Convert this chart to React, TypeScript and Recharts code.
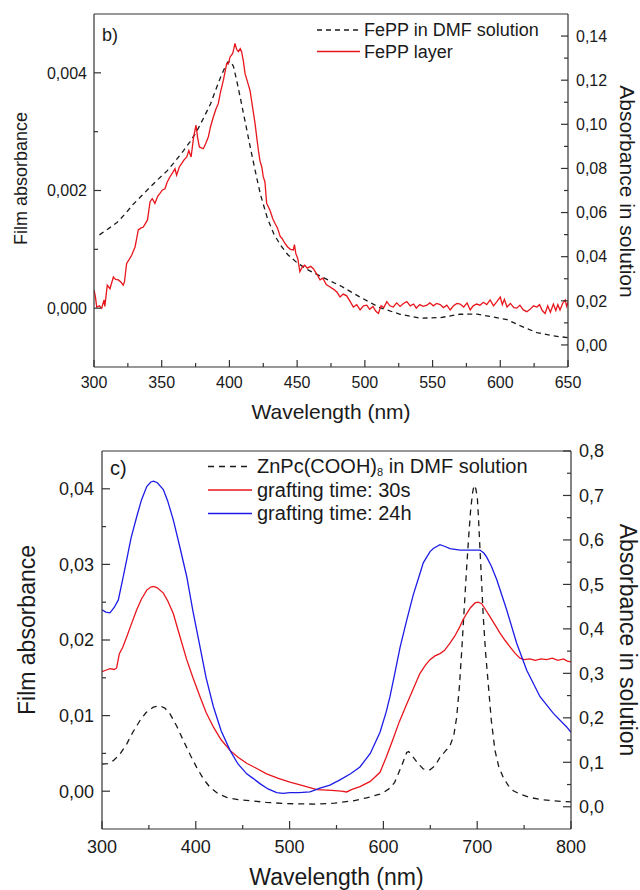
import React from 'react';
import { LineChart, Line, XAxis, YAxis, Legend, ReferenceLine } from 'recharts';

const FONT = '"Liberation Sans", Arial, Helvetica, sans-serif';
const AXIS = '#333333';
const TXT = '#1a1a1a';

// ---------- Panel b) ----------
const bXTicks = [300, 325, 350, 375, 400, 425, 450, 475, 500, 525, 550, 575, 600, 625, 650];
const bLeftTicks = [0, 0.001, 0.002, 0.003, 0.004];
const bRightTicks = [0, 0.01, 0.02, 0.03, 0.04, 0.05, 0.06, 0.07, 0.08, 0.09, 0.1, 0.11, 0.12, 0.13, 0.14];

const bNames = ['FePP in DMF solution', 'FePP layer'];
const bColors = ['#1a1a1a', '#e8161c'];
const bDashes = ['5 4', undefined];

const feppSolWl = [304, 310, 317, 323, 329, 335, 341, 347, 354, 360, 366, 371, 376, 381, 386, 390, 394, 397, 399, 401, 403, 405.5, 408, 410.5, 413, 415.5, 418, 420.5, 423, 428, 433, 438, 443, 450, 458, 467, 482, 497, 511, 526, 541, 556, 570, 583, 595, 605, 615, 627, 639, 650];
const feppSolAbs = [0.0499, 0.0524, 0.0555, 0.0594, 0.0638, 0.0675, 0.0713, 0.0749, 0.0789, 0.0833, 0.088, 0.0922, 0.097, 0.103, 0.1092, 0.1158, 0.1222, 0.1262, 0.1283, 0.1285, 0.1262, 0.1195, 0.1121, 0.1045, 0.097, 0.0893, 0.082, 0.0748, 0.068, 0.0575, 0.05, 0.045, 0.041, 0.0372, 0.034, 0.0312, 0.0268, 0.0215, 0.0169, 0.0139, 0.0121, 0.0124, 0.0139, 0.014, 0.0126, 0.0115, 0.0086, 0.0056, 0.0041, 0.0033];

const feppLayerWl = [300, 301, 302, 304, 305.7, 307.4, 308, 309.8, 311.8, 314.3, 316, 318, 320, 321.6, 322.5, 324.1, 326, 327.8, 330.3, 331.5, 332.7, 334.5, 336.4, 338, 339.5, 341.4, 343, 345, 347, 348.7, 350.5, 352.4, 354, 356, 358, 359.8, 361, 363, 364.8, 366.5, 368.5, 370, 371.7, 373.5, 375.3, 376.5, 377.8, 380.7, 382.5, 384.4, 386, 388.1, 390, 391.8, 393.5, 395.5, 396.8, 398, 399.2, 400.5, 402.4, 403.3, 404.1, 405.3, 406.6, 408, 409, 410.3, 411.5, 413.3, 415.2, 417, 418.9, 420.2, 421.4, 422.6, 423.9, 425, 426.2, 427.5, 428.8, 430, 432, 433.7, 435.5, 437.5, 439, 441, 443, 445, 447.2, 448, 449, 450.5, 452, 453.8, 455.6, 457.5, 460, 462, 464.5, 466.9, 469, 471.5, 474.3, 477, 479.5, 481.7, 484, 486.6, 489, 491.5, 494, 496.5, 499, 501.4, 503.5, 506, 508, 510, 512, 514, 516.2, 518.5, 521, 523.5, 526, 528.5, 531, 533.5, 536, 538, 540.5, 543, 545.8, 548, 550.5, 553, 555.6, 558, 560.5, 563, 565.5, 568, 570.4, 573, 575.5, 577.8, 580, 582.5, 585, 587.5, 590, 592.5, 595, 597.5, 600, 601.5, 603, 605, 607.5, 610, 612.2, 614.5, 617, 619.6, 622, 624.5, 627, 629, 631, 633.1, 635, 637, 639.2, 641, 642.5, 644.1, 646, 647.9, 649, 650];
const feppLayerAbs = [0.00031, 0.0002, 0.00002, 0.00004, 0, 0.00014, 0.00003, 0.00039, 0.00033, 0.00053, 0.00049, 0.00048, 0.00044, 0.00039, 0.00045, 0.00076, 0.00083, 0.0009, 0.00104, 0.00118, 0.00133, 0.00136, 0.00138, 0.00144, 0.0015, 0.00181, 0.00186, 0.00178, 0.0019, 0.00195, 0.00201, 0.00203, 0.00214, 0.00223, 0.0023, 0.00237, 0.00226, 0.0024, 0.00246, 0.00252, 0.00257, 0.00268, 0.00257, 0.0029, 0.00311, 0.0029, 0.00274, 0.00271, 0.0028, 0.00291, 0.00308, 0.00325, 0.00338, 0.00348, 0.00368, 0.00387, 0.00402, 0.00416, 0.00415, 0.00427, 0.00433, 0.00441, 0.0045, 0.0044, 0.00436, 0.00441, 0.00436, 0.0042, 0.00399, 0.00385, 0.0037, 0.00343, 0.00314, 0.0029, 0.00268, 0.0025, 0.0024, 0.00223, 0.00215, 0.00178, 0.00172, 0.00166, 0.00152, 0.00144, 0.00136, 0.00122, 0.00118, 0.0011, 0.00104, 0.001, 0.00099, 0.00108, 0.00093, 0.00084, 0.00062, 0.0007, 0.00073, 0.00068, 0.00071, 0.00067, 0.00058, 0.00048, 0.00051, 0.0004, 0.00036, 0.00032, 0.00027, 0.00019, 0.00024, 0.00021, 0.00012, 0.00002, 0.00006, -0.00003, 0.00004, 0.00005, -0.00002, 0.00003, -0.00005, -0.00009, 0.00004, 0.00001, 0.00011, 0.00004, 0.00002, 0.00009, 0.00003, 0.00008, 0.00011, 0.00004, 0.00007, 0, 0.00006, 0.00003, 0.00005, 0.00009, 0.00004, 0.00008, 0.00006, 0.00001, 0.00005, -0.00003, 0.00004, 0.00008, 0.00007, 0.00002, 0.00009, -0.00003, 0.00004, 0.00007, 0.00005, 0.0001, 0.00006, 0.00014, 0.00004, 0.00011, 0.00019, 0.00006, 0.00015, 0.00002, 0.00008, 0.00001, 0, 0.00005, -0.00003, -0.00006, -0.00002, 0.00004, 0.00002, 0.00006, -0.00004, -0.00009, 0.00004, -0.00007, 0.00007, -0.00004, 0.00006, -0.00003, 0.00008, 0.00014, 0.00003, 0.0001];

// ---------- Panel c) ----------
const cXTicks = [300, 350, 400, 450, 500, 550, 600, 650, 700, 750, 800];
const cLeftTicks = [0, 0.005, 0.01, 0.015, 0.02, 0.025, 0.03, 0.035, 0.04];
const cRightTicks = [0, 0.05, 0.1, 0.15, 0.2, 0.25, 0.3, 0.35, 0.4, 0.45, 0.5, 0.55, 0.6, 0.65, 0.7, 0.75, 0.8];

const cNames = ['ZnPc(COOH)8 in DMF solution', 'grafting time: 30s', 'grafting time: 24h'];
const cColors = ['#1a1a1a', '#e8161c', '#1c1ce6'];
const cDashes = ['6 5', undefined, undefined];

const znpcSolWl = [300, 306, 312, 319, 326.3, 333, 340.5, 347, 354.7, 361.8, 367, 372.5, 380, 386.7, 394, 400.9, 408, 415.2, 424, 432.9, 445, 457.8, 475, 493.4, 510, 529, 548, 567.9, 582, 596.4, 600, 607, 612, 616, 620, 624.8, 627, 631.9, 637, 642.5, 649.7, 655, 660.3, 666, 671, 675, 678.1, 681, 683.5, 686, 688.8, 691, 693, 695, 696.6, 698.5, 700.1, 701.5, 703, 704.8, 706.5, 709, 711.8, 715, 719, 723, 727.8, 733, 738.5, 746, 756.3, 768, 781.2, 790, 800];
const znpcSolAbs = [0.0962, 0.097, 0.1036, 0.118, 0.141, 0.168, 0.194, 0.212, 0.224, 0.227, 0.222, 0.209, 0.18, 0.149, 0.117, 0.0885, 0.063, 0.0435, 0.029, 0.021, 0.016, 0.0135, 0.01, 0.0074, 0.0065, 0.006, 0.008, 0.0135, 0.02, 0.0285, 0.032, 0.042, 0.055, 0.075, 0.095, 0.122, 0.124, 0.111, 0.097, 0.085, 0.083, 0.092, 0.111, 0.125, 0.137, 0.16, 0.201, 0.27, 0.351, 0.44, 0.539, 0.61, 0.667, 0.705, 0.723, 0.715, 0.697, 0.645, 0.577, 0.5, 0.426, 0.345, 0.276, 0.195, 0.126, 0.09, 0.066, 0.048, 0.036, 0.028, 0.021, 0.016, 0.0135, 0.012, 0.011];

const graft30Wl = [300, 304, 308.5, 313, 315.6, 318.5, 322, 326.3, 331, 337, 342, 347.7, 352, 355, 359, 365.4, 370, 376, 383, 390.3, 397, 404.5, 411, 418.7, 427, 436.5, 445, 454.3, 465, 475.5, 488, 500.4, 515, 529, 545, 555, 560.9, 566, 575, 586, 596.4, 603, 610.6, 617, 624.8, 632, 639, 645, 649.7, 655, 660.3, 665, 671, 676, 681.7, 685, 688.8, 693, 697.7, 701, 704.8, 709, 713.6, 719, 724.3, 730, 735, 740, 745.6, 750, 756, 762, 768, 774, 780, 786, 792, 796, 800];
const graft30Abs = [0.0158, 0.016, 0.0162, 0.0161, 0.0163, 0.0182, 0.019, 0.0204, 0.022, 0.024, 0.0254, 0.0266, 0.027, 0.0271, 0.0269, 0.0262, 0.0252, 0.0235, 0.0205, 0.0174, 0.015, 0.0125, 0.0104, 0.0085, 0.0068, 0.0054, 0.0045, 0.0037, 0.003, 0.0023, 0.0017, 0.0012, 0.0007, 0.0002, 0.0001, 0, -0.0001, 0.0002, 0.0006, 0.0013, 0.0025, 0.0045, 0.007, 0.0092, 0.0115, 0.0136, 0.0156, 0.0167, 0.0174, 0.0179, 0.0182, 0.0186, 0.0196, 0.0205, 0.0218, 0.0227, 0.0235, 0.0243, 0.0249, 0.025, 0.0248, 0.024, 0.0231, 0.022, 0.0209, 0.0199, 0.0191, 0.0183, 0.0176, 0.0174, 0.0175, 0.0173, 0.0175, 0.0174, 0.0176, 0.0173, 0.0175, 0.0172, 0.0171];

const graft24Wl = [300, 304, 308.5, 313, 317.4, 322, 326.3, 331, 337, 342, 347.7, 352, 355, 359, 365.4, 370, 376, 383, 390.3, 397, 404.5, 411, 418.7, 427, 436.5, 445, 454.3, 461, 468.4, 477, 486.2, 493, 500.4, 510, 521.7, 532.4, 543, 553.7, 565, 575, 586, 596.4, 603, 607, 612, 617.7, 624.8, 631.9, 639, 642.5, 649.7, 653.2, 660.3, 665, 671, 681.7, 689, 695.8, 703, 707, 710, 715, 720.8, 731.4, 742, 752.8, 767, 781.2, 795.4, 800];
const graft24Abs = [0.024, 0.0237, 0.0236, 0.0243, 0.0253, 0.028, 0.0306, 0.0335, 0.0363, 0.0385, 0.0403, 0.0409, 0.041, 0.0408, 0.0399, 0.0384, 0.0359, 0.0323, 0.0284, 0.0238, 0.0191, 0.015, 0.0112, 0.008, 0.0054, 0.0036, 0.0023, 0.0017, 0.001, 0.0003, -0.0002, -0.0003, -0.0002, -0.0002, -0.0001, 0.0004, 0.0008, 0.0015, 0.0023, 0.0032, 0.005, 0.0078, 0.0105, 0.0125, 0.0155, 0.019, 0.0226, 0.026, 0.0288, 0.0302, 0.0317, 0.0321, 0.0326, 0.0324, 0.0321, 0.0319, 0.0319, 0.0319, 0.0319, 0.0315, 0.031, 0.0298, 0.028, 0.024, 0.0196, 0.016, 0.0125, 0.0103, 0.0085, 0.0078];

const zip = (xs: number[], ys: number[]) => xs.map((x, i) => ({ x, y: ys[i] }));

const comma = (v: number, d: number) => v.toFixed(d).replace('.', ',');

type TickCfg = {
  side: 'left' | 'right' | 'bottom';
  step: number;
  digits: number;
  fs: number;
  major: number;
  minor: number;
  gap: number;
};

const makeTick = (c: TickCfg) => (props: any) => {
  const { x, y, payload } = props;
  const v = payload.value;
  const r = v / c.step;
  const isMajor = Math.abs(r - Math.round(r)) < 1e-6;
  const len = isMajor ? c.major : c.minor;
  const ls = { stroke: AXIS, strokeWidth: 1.2 };
  const ts = { fontSize: c.fs, fontFamily: FONT, fill: TXT };
  const lbl = comma(v, c.digits);
  if (c.side === 'bottom') {
    return (
      <g>
        <line x1={x} x2={x} y1={y} y2={y - len} {...ls} />
        {isMajor && (
          <text x={x} y={y + c.gap} textAnchor="middle" {...ts}>
            {lbl}
          </text>
        )}
      </g>
    );
  }
  if (c.side === 'left') {
    return (
      <g>
        <line x1={x} x2={x + len} y1={y} y2={y} {...ls} />
        {isMajor && (
          <text x={x - c.gap} y={y + c.fs * 0.36} textAnchor="end" {...ts}>
            {lbl}
          </text>
        )}
      </g>
    );
  }
  return (
    <g>
      <line x1={x} x2={x - len} y1={y} y2={y} {...ls} />
      {isMajor && (
        <text x={x + c.gap} y={y + c.fs * 0.36} textAnchor="start" {...ts}>
          {lbl}
        </text>
      )}
    </g>
  );
};

const yTitle = (text: string, fs: number, side: 'left' | 'right', dist: number, dy: number) => ({
  content: (p: any) => {
    const vb = p.viewBox || {};
    const cx = side === 'left' ? vb.x + vb.width - dist : vb.x + dist;
    const cy = vb.y + vb.height / 2 + dy;
    const ang = side === 'left' ? -90 : 90;
    return (
      <text
        x={cx}
        y={cy}
        transform={`rotate(${ang} ${cx} ${cy})`}
        textAnchor="middle"
        dominantBaseline="central"
        fontSize={fs}
        fontFamily={FONT}
        fill={TXT}
      >
        {text}
      </text>
    );
  },
});

const xTitle = (text: string, fs: number, baseline: number) => ({
  content: (p: any) => {
    const vb = p.viewBox || {};
    return (
      <text x={vb.x + vb.width / 2} y={vb.y + baseline} textAnchor="middle" fontSize={fs} fontFamily={FONT} fill={TXT}>
        {text}
      </text>
    );
  },
});

const renderName = (name: string) => {
  const m = name.match(/^(.*\(COOH\))8(.*)$/);
  if (!m) return name;
  return [
    <tspan key="a">{m[1]}</tspan>,
    <tspan key="b" fontSize={11} dy={3}>
      8
    </tspan>,
    <tspan key="c" dy={-3}>
      {m[2]}
    </tspan>,
  ];
};

const makeLegend = (
  panel: string,
  panelX: number,
  panelY: number,
  names: string[],
  colors: string[],
  dashes: (string | undefined)[],
  x1: number,
  x2: number,
  textX: number,
  y0: number,
  rowH: number,
  fs: number,
  w: number,
  h: number
) => () => (
  <svg width={w} height={h} style={{ position: 'absolute', left: 0, top: 0, overflow: 'visible' }}>
    <text x={panelX} y={panelY} fontSize={fs} fontFamily={FONT} fill={TXT}>
      {panel}
    </text>
    {names.map((n, i) => {
      const y = y0 + i * rowH;
      return (
        <g key={n}>
          <line x1={x1} x2={x2} y1={y} y2={y} stroke={colors[i]} strokeWidth={1.4} strokeDasharray={dashes[i]} />
          <text x={textX} y={y + fs * 0.34} fontSize={fs} fontFamily={FONT} fill={TXT}>
            {renderName(n)}
          </text>
        </g>
      );
    })}
  </svg>
);

const axisLineStyle = { stroke: AXIS, strokeWidth: 1.2 };

export default function App() {
  return (
    <div style={{ position: 'absolute', left: 0, top: 0, width: 640, height: 890, background: '#fff' }}>
      <div style={{ position: 'absolute', left: 0, top: 0 }}>
        <LineChart width={640} height={426} margin={{ top: 14, right: 0, bottom: 0, left: 0 }}>
          <XAxis
            type="number"
            dataKey="x"
            domain={[300, 650]}
            ticks={bXTicks}
            interval={0}
            allowDataOverflow
            height={59}
            tickSize={0}
            tickMargin={0}
            tickLine={false}
            axisLine={axisLineStyle}
            tick={makeTick({ side: 'bottom', step: 50, digits: 0, fs: 16, major: 7, minor: 4, gap: 21 })}
            label={xTitle('Wavelength (nm)', 21, 52)}
          />
          <YAxis
            yAxisId="L"
            orientation="left"
            type="number"
            domain={[-0.001, 0.005]}
            ticks={bLeftTicks}
            interval={0}
            allowDataOverflow
            width={94}
            tickSize={0}
            tickMargin={0}
            tickLine={false}
            axisLine={axisLineStyle}
            tick={makeTick({ side: 'left', step: 0.002, digits: 3, fs: 16, major: 7, minor: 4, gap: 7 })}
            label={yTitle('Film absorbance', 18, 'left', 73, -12)}
          />
          <YAxis
            yAxisId="R"
            orientation="right"
            type="number"
            domain={[-0.01, 0.15]}
            ticks={bRightTicks}
            interval={0}
            allowDataOverflow
            width={72}
            tickSize={0}
            tickMargin={0}
            tickLine={false}
            axisLine={axisLineStyle}
            tick={makeTick({ side: 'right', step: 0.02, digits: 2, fs: 16, major: 7, minor: 4, gap: 8 })}
            label={yTitle('Absorbance in solution', 21, 'right', 59, 1)}
          />
          <ReferenceLine yAxisId="L" y={0.005} stroke={AXIS} strokeWidth={1.2} />
          <Line
            yAxisId="R"
            data={zip(feppSolWl, feppSolAbs)}
            dataKey="y"
            name={bNames[0]}
            type="linear"
            stroke={bColors[0]}
            strokeWidth={1.3}
            strokeDasharray={bDashes[0]}
            dot={false}
            isAnimationActive={false}
          />
          <Line
            yAxisId="L"
            data={zip(feppLayerWl, feppLayerAbs)}
            dataKey="y"
            name={bNames[1]}
            type="linear"
            stroke={bColors[1]}
            strokeWidth={1.3}
            dot={false}
            isAnimationActive={false}
          />
          <Legend
            layout="vertical"
            align="center"
            verticalAlign="middle"
            wrapperStyle={{ left: 0, top: 0, width: 640, height: 426, pointerEvents: 'none' }}
            content={makeLegend('b)', 102, 41, bNames, bColors, bDashes, 317, 360, 364, 30, 21.5, 18, 640, 426)}
          />
        </LineChart>
      </div>
      <div style={{ position: 'absolute', left: 0, top: 420 }}>
        <LineChart width={640} height={470} margin={{ top: 31, right: 0, bottom: 0, left: 0 }}>
          <XAxis
            type="number"
            dataKey="x"
            domain={[300, 800]}
            ticks={cXTicks}
            interval={0}
            allowDataOverflow
            height={61}
            tickSize={0}
            tickMargin={0}
            tickLine={false}
            axisLine={axisLineStyle}
            tick={makeTick({ side: 'bottom', step: 100, digits: 0, fs: 18, major: 8, minor: 4, gap: 24 })}
            label={xTitle('Wavelength (nm)', 23, 56)}
          />
          <YAxis
            yAxisId="L"
            orientation="left"
            type="number"
            domain={[-0.005, 0.045]}
            ticks={cLeftTicks}
            interval={0}
            allowDataOverflow
            width={102}
            tickSize={0}
            tickMargin={0}
            tickLine={false}
            axisLine={axisLineStyle}
            tick={makeTick({ side: 'left', step: 0.01, digits: 2, fs: 18, major: 8, minor: 4, gap: 8 })}
            label={yTitle('Film absorbance', 23, 'left', 75, -10)}
          />
          <YAxis
            yAxisId="R"
            orientation="right"
            type="number"
            domain={[-0.05, 0.8]}
            ticks={cRightTicks}
            interval={0}
            allowDataOverflow
            width={69}
            tickSize={0}
            tickMargin={0}
            tickLine={false}
            axisLine={axisLineStyle}
            tick={makeTick({ side: 'right', step: 0.1, digits: 1, fs: 18, major: 8, minor: 4, gap: 8 })}
            label={yTitle('Absorbance in solution', 23, 'right', 57, 0)}
          />
          <ReferenceLine yAxisId="L" y={0.045} stroke={AXIS} strokeWidth={1.2} />
          <Line
            yAxisId="R"
            data={zip(znpcSolWl, znpcSolAbs)}
            dataKey="y"
            name={cNames[0]}
            type="linear"
            stroke={cColors[0]}
            strokeWidth={1.3}
            strokeDasharray={cDashes[0]}
            dot={false}
            isAnimationActive={false}
          />
          <Line
            yAxisId="L"
            data={zip(graft30Wl, graft30Abs)}
            dataKey="y"
            name={cNames[1]}
            type="linear"
            stroke={cColors[1]}
            strokeWidth={1.3}
            dot={false}
            isAnimationActive={false}
          />
          <Line
            yAxisId="L"
            data={zip(graft24Wl, graft24Abs)}
            dataKey="y"
            name={cNames[2]}
            type="linear"
            stroke={cColors[2]}
            strokeWidth={1.3}
            dot={false}
            isAnimationActive={false}
          />
          <Legend
            layout="vertical"
            align="center"
            verticalAlign="middle"
            wrapperStyle={{ left: 0, top: 0, width: 640, height: 470, pointerEvents: 'none' }}
            content={makeLegend('c)', 110, 55, cNames, cColors, cDashes, 208, 252, 257, 46.5, 23.5, 20, 640, 470)}
          />
        </LineChart>
      </div>
    </div>
  );
}
